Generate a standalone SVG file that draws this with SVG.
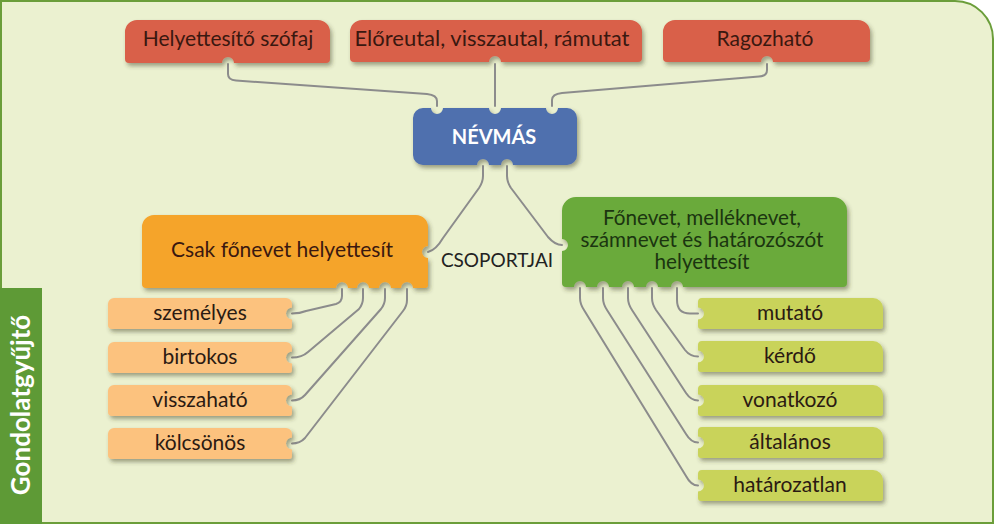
<svg xmlns="http://www.w3.org/2000/svg" width="994" height="524" viewBox="0 0 994 524">
<style>
text{font-family:Lato,"Open Sans","Liberation Sans",sans-serif;text-anchor:middle}
.t{font-size:21px;fill:#3a1810}
.s{font-size:21px;fill:#2b1a12}
.c{font-size:19px;fill:#222}
.g{font-size:20.7px;fill:#1b3510}
.w{font-size:20px;fill:#fff;font-weight:bold}
.con path{fill:none;stroke:#8c8c8c;stroke-width:2;stroke-linecap:round;stroke-linejoin:round}
.box{filter:url(#sh)}
</style>
<defs>
<filter id="sh" x="-10%" y="-20%" width="125%" height="150%">
<feDropShadow dx="2" dy="3" stdDeviation="2" flood-color="#3a3a20" flood-opacity="0.45"/>
</filter>
<path id="lo" d="M6,0 H178 A6,6 0 0 1 184,6 V9.5 A6,6 0 0 0 184,21.5 V28 A3,3 0 0 1 181,31 H4 A4,4 0 0 1 0,27 V6 A6,6 0 0 1 6,0 Z"/>
<path id="ly" d="M4,0 H175 A10,10 0 0 1 185,10 V28 A3,3 0 0 1 182,31 H3 A3,3 0 0 1 0,28 V21.5 A6,6 0 0 0 0,9.5 V4 A4,4 0 0 1 4,0 Z"/>
</defs>
<rect width="994" height="524" fill="#fff"/>
<path d="M1,1 H955 A38,38 0 0 1 993,39 V523 H1 Z" fill="#ebf1d0" stroke="#6b9e3a" stroke-width="2"/>
<g id="tab">
<rect x="0" y="288" width="42" height="236" fill="#5e9a36"/>
<text class="w" transform="translate(30,405) rotate(-90)" style="font-size:26px">Gondolatgyűjtő</text>
</g>
<g class="con" id="connectors">
<path d="M228,64 V74 Q228,80 236,80.6 L427,94 Q437,95 437,101 V106"/>
<path d="M495,64 V106"/>
<path d="M767,64 V70 Q767,76 759,76.6 L562,93 Q552,94 552,100 V106"/>
<path d="M483,166 V176 Q483,182 479,188 L443,238 Q436,250 428,252"/>
<path d="M507,166 V176 Q507,182 511,188 L548,237 Q555,245 562,245"/>
<path d="M342,289 V296 Q342,302 336,304 L306,311 Q300,313.5 292,313.5"/>
<path d="M363,289 V298 Q363,304 359,309 L308,352 Q302,357.5 292,357.5"/>
<path d="M385,289 V298 Q385,304 381,309 L305,395 Q300,400.5 292,400.5"/>
<path d="M407,289 V300 Q407,306 403,311 L305,438 Q300,443.5 292,443.5"/>
<path d="M677,288 V300 Q677,313.5 690,313.5 H698"/>
<path d="M652,288 V298 Q652,304 656,310 L685,350 Q690,356.5 698,356.5"/>
<path d="M628,288 V298 Q628,304 632,310 L686,393 Q691,400.5 698,400.5"/>
<path d="M603,288 V298 Q603,304 607,310 L686,434 Q691,442.5 698,442.5"/>
<path d="M580,288 V298 Q580,304 584,310 L686,476 Q691,485.5 698,485.5"/>
</g>
<g id="n-helyettesito">
<path class="box" fill="#d9604a" d="M137,20 H318 A12,12 0 0 1 330,32 V59 A4,4 0 0 1 326,63 H234 A6,6 0 0 0 222,63 H129 A4,4 0 0 1 125,59 V32 A12,12 0 0 1 137,20 Z"/>
<text class="t" x="228" y="46">Helyettesítő szófaj</text>
</g>
<g id="n-eloreutal">
<path class="box" fill="#d9604a" d="M362,20 H630 A12,12 0 0 1 642,32 V58 A4,4 0 0 1 638,62 H501 A6,6 0 0 0 489,62 H354 A4,4 0 0 1 350,58 V32 A12,12 0 0 1 362,20 Z"/>
<text class="t" x="492" y="46" style="font-size:22px">Előreutal, visszautal, rámutat</text>
</g>
<g id="n-ragozhato">
<path class="box" fill="#d9604a" d="M675,20 H858 A12,12 0 0 1 870,32 V58 A4,4 0 0 1 866,62 H773 A6,6 0 0 0 761,62 H667 A4,4 0 0 1 663,58 V32 A12,12 0 0 1 675,20 Z"/>
<text class="t" x="765" y="46">Ragozható</text>
</g>
<g id="n-nevmas">
<path class="box" fill="#4f6fae" d="M423,108 H431 A6,6 0 0 0 443,108 H489 A6,6 0 0 0 501,108 H546 A6,6 0 0 0 558,108 H567 A10,10 0 0 1 577,118 V155 A10,10 0 0 1 567,165 H513 A6,6 0 0 0 501,165 H489 A6,6 0 0 0 477,165 H423 A10,10 0 0 1 413,155 V118 A10,10 0 0 1 423,108 Z"/>
<text class="w" x="494" y="144">NÉVMÁS</text>
</g>
<g id="n-csak">
<path class="box" fill="#f5a42a" d="M154,215 H416 A12,12 0 0 1 428,227 V246 A6,6 0 0 0 428,258 V285 A3,3 0 0 1 425,288 H413 A6,6 0 0 0 401,288 H391 A6,6 0 0 0 379,288 H369 A6,6 0 0 0 357,288 H348 A6,6 0 0 0 336,288 H146 A4,4 0 0 1 142,284 V227 A12,12 0 0 1 154,215 Z"/>
<text class="t" x="282" y="257">Csak főnevet helyettesít</text>
</g>
<g id="l-csoportjai">
<text class="c" x="497" y="267">CSOPORTJAI</text>
</g>
<g id="n-fonevet">
<path class="box" fill="#6aaa3a" d="M576,197 H833 A14,14 0 0 1 847,211 V283 A4,4 0 0 1 843,287 H683 A6,6 0 0 0 671,287 H658 A6,6 0 0 0 646,287 H634 A6,6 0 0 0 622,287 H609 A6,6 0 0 0 597,287 H586 A6,6 0 0 0 574,287 H566 A4,4 0 0 1 562,283 V251 A6,6 0 0 0 562,239 V211 A14,14 0 0 1 576,197 Z"/>
<text class="g" x="702" y="225">Főnevet, melléknevet,</text>
<text class="g" x="702" y="247">számnevet és határozószót</text>
<text class="g" x="702" y="269">helyettesít</text>
</g>
<g id="n-szemelyes"><use href="#lo" transform="translate(108,298)" fill="#fcc27e" class="box"/><text class="s" x="200" y="320">személyes</text></g>
<g id="n-birtokos"><use href="#lo" transform="translate(108,342)" fill="#fcc27e" class="box"/><text class="s" x="200" y="364">birtokos</text></g>
<g id="n-visszahato"><use href="#lo" transform="translate(108,385)" fill="#fcc27e" class="box"/><text class="s" x="200" y="407">visszaható</text></g>
<g id="n-kolcsonos"><use href="#lo" transform="translate(108,428)" fill="#fcc27e" class="box"/><text class="s" x="200" y="450">kölcsönös</text></g>
<g id="n-mutato"><use href="#ly" transform="translate(698,298)" fill="#c9d35a" class="box"/><text class="s" x="790" y="320">mutató</text></g>
<g id="n-kerdo"><use href="#ly" transform="translate(698,341)" fill="#c9d35a" class="box"/><text class="s" x="790" y="363">kérdő</text></g>
<g id="n-vonatkozo"><use href="#ly" transform="translate(698,385)" fill="#c9d35a" class="box"/><text class="s" x="790" y="407">vonatkozó</text></g>
<g id="n-altalanos"><use href="#ly" transform="translate(698,427)" fill="#c9d35a" class="box"/><text class="s" x="790" y="449">általános</text></g>
<g id="n-hatarozatlan"><use href="#ly" transform="translate(698,470)" fill="#c9d35a" class="box"/><text class="s" x="790" y="492">határozatlan</text></g>
</svg>
